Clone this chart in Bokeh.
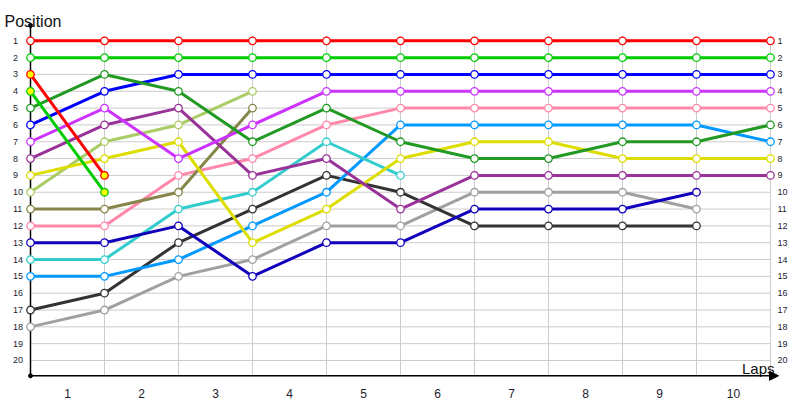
from bokeh.plotting import figure
from bokeh.models import Range1d, Arrow, NormalHead
from bokeh.core.properties import value
from bokeh.embed import file_html
from bokeh.resources import INLINE

# ---- data ----
laps = [0, 1, 2, 3, 4, 5, 6, 7, 8, 9, 10]
lap_labels = ["1", "2", "3", "4", "5", "6", "7", "8", "9", "10"]
positions = [1, 2, 3, 4, 5, 6, 7, 8, 9, 10, 11, 12, 13, 14, 15, 16, 17, 18, 19, 20]
position_labels = [str(v) for v in positions]

gray_pos = [18, 17, 15, 14, 12, 12, 10, 10, 10, 11]
black_pos = [17, 16, 13, 11, 9, 10, 12, 12, 12, 12]
ltblue_pos = [15, 15, 14, 12, 10, 6, 6, 6, 6, 6, 7]
cyan_pos = [14, 14, 11, 10, 7, 9]
navy_pos = [13, 13, 12, 15, 13, 13, 11, 11, 11, 10]
pink_pos = [12, 12, 9, 8, 6, 5, 5, 5, 5, 5, 5]
olive_pos = [11, 11, 10, 5]
ltgreen_pos = [10, 7, 6, 4]
yellow_pos = [9, 8, 7, 13, 11, 8, 7, 7, 8, 8, 8]
purple_pos = [8, 6, 5, 9, 8, 11, 9, 9, 9, 9, 9]
magenta_pos = [7, 5, 8, 6, 4, 4, 4, 4, 4, 4, 4]
blue_pos = [6, 4, 3, 3, 3, 3, 3, 3, 3, 3, 3]
dkgreen_pos = [5, 3, 4, 7, 5, 7, 8, 8, 7, 7, 6]
green_b_pos = [4, 10]
red_b_pos = [3, 9]
green_a_pos = [2, 2, 2, 2, 2, 2, 2, 2, 2, 2, 2]
red_a_pos = [1, 1, 1, 1, 1, 1, 1, 1, 1, 1, 1]

series = [
    (gray_pos, "#a0a0a0", "white"),
    (black_pos, "#333333", "white"),
    (ltblue_pos, "#0099ff", "white"),
    (cyan_pos, "#33cccc", "white"),
    (navy_pos, "#1100bb", "white"),
    (pink_pos, "#ff88aa", "white"),
    (olive_pos, "#86864a", "white"),
    (ltgreen_pos, "#aacc66", "white"),
    (yellow_pos, "#dddd00", "white"),
    (purple_pos, "#993399", "white"),
    (magenta_pos, "#cc33ff", "white"),
    (blue_pos, "#0000ff", "white"),
    (dkgreen_pos, "#229922", "white"),
    (green_a_pos, "#00cc00", "white"),
    (red_a_pos, "#ff0000", "white"),
    (green_b_pos, "#00cc00", "#ffff00"),
    (red_b_pos, "#ff0000", "#ffff00"),
]

# ---- geometry ----
PX_LAP = 74.0
PX_POS = 16.826
axis_top = 0.09
axis_bottom = 20.91

p = figure(width=800, height=400,
           x_range=Range1d(-30 / PX_LAP, 10 + 30 / PX_LAP),
           y_range=Range1d(1 + 359.7 / PX_POS, 1 - 40.3 / PX_POS),
           output_backend="svg", toolbar_location=None,
           x_axis_location=None, y_axis_location=None, min_border=0)
p.grid.visible = False
p.outline_line_color = None
p.background_fill_color = "white"
p.border_fill_color = "white"

GRID = "#cccccc"
# horizontal grid lines
p.segment(x0=[laps[0]] * len(positions), x1=[laps[-1]] * len(positions),
          y0=positions, y1=positions, line_color=GRID, line_width=1)
# vertical grid lines
p.segment(x0=laps[1:], x1=laps[1:], y0=[0.7] * (len(laps) - 1),
          y1=[axis_bottom] * (len(laps) - 1), line_color=GRID, line_width=1)

# axes
p.segment(x0=[0], x1=[0], y0=[axis_top], y1=[axis_bottom], line_color="black", line_width=1.5)
p.add_layout(Arrow(end=NormalHead(size=9, fill_color="black", line_color="black"),
                   x_start=0, y_start=axis_bottom, x_end=10 + 8 / PX_LAP, y_end=axis_bottom,
                   line_color="black", line_width=1.5))
p.scatter(x=[0, 0], y=[axis_top, axis_bottom], size=4, color="black")

# series
for vals, col, fill in series:
    xs = laps[:len(vals)]
    p.line(xs, vals, line_color=col, line_width=3)
    p.scatter(xs, vals, marker="circle", size=7.5, fill_color=fill,
              line_color=col, line_width=1.3)

FONT = value("Liberation Sans")
TXT = "#1c1c30"
# left labels
p.text(x=[0] * len(positions), y=positions, text=position_labels, x_offset=-17.5,
       text_align="left", text_baseline="middle", text_font=FONT,
       text_font_size="9px", text_color=TXT)
# right labels
p.text(x=[10] * len(positions), y=positions, text=position_labels, x_offset=7,
       text_align="left", text_baseline="middle", text_font=FONT,
       text_font_size="9px", text_color=TXT)
# lap labels
p.text(x=[v + 0.5 for v in laps[:-1]], y=[21.96] * len(lap_labels), text=lap_labels,
       text_align="center", text_baseline="alphabetic", text_font=FONT,
       text_font_size="12px", text_color=TXT)
# axis titles
p.text(x=[0], y=[-0.147], text=["Position"], x_offset=-26, text_align="left",
       text_baseline="alphabetic", text_font=FONT, text_font_size="16px", text_color="#111111")
p.text(x=[10], y=[20.476], text=["Laps"], x_offset=4, text_align="right",
       text_baseline="alphabetic", text_font=FONT, text_font_size="15px", text_color="#111111")

open("out.html", "w").write(file_html(p, INLINE))
